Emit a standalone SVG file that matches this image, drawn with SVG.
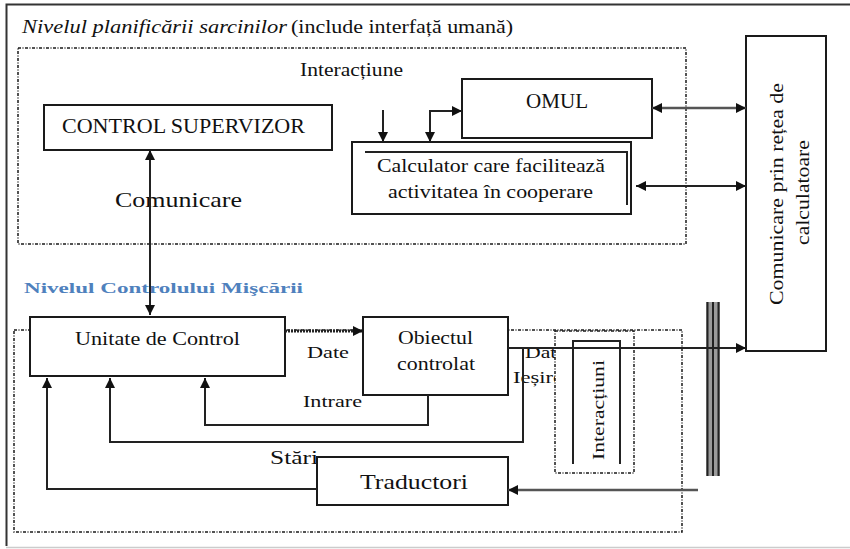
<svg xmlns="http://www.w3.org/2000/svg" width="850" height="549" viewBox="0 0 850 549">
  <style>
    .box { fill: #fff; stroke: #1a1a1a; stroke-width: 2; }
    .zone { fill: none; stroke: #1a1a1a; stroke-width: 1.5; stroke-dasharray: 3 1.5 1 1.5; }
    .zonew { fill: #fff; stroke: #1a1a1a; stroke-width: 1.5; stroke-dasharray: 3 1.5 1 1.5; }
    .ln { fill: none; stroke: #222; stroke-width: 2; }
    .lg { fill: none; stroke: #555; stroke-width: 2.5; }
    text { font-family: 'Liberation Serif', 'DejaVu Serif', serif; fill: #111; }
  </style>
  <defs>
    <marker id="ah" viewBox="0 0 10 10" refX="10" refY="5" markerWidth="11" markerHeight="10" markerUnits="userSpaceOnUse" orient="auto-start-reverse">
      <path d="M0,0 L10,5 L0,10 z" fill="#111"/>
    </marker>
  </defs>

  <rect width="850" height="549" fill="#fff"/>
  <!-- outer frame -->
  <path d="M850,4.5 H6.5 V546" fill="none" stroke="#333" stroke-width="2"/>
  <path d="M6,547.5 H850" fill="none" stroke="#ccc" stroke-width="1.5"/>

  <!-- level captions -->
  <text x="22" y="33" font-size="19" font-style="italic" textLength="265" lengthAdjust="spacingAndGlyphs">Nivelul planificării sarcinilor</text>
  <text x="291" y="33" font-size="19" textLength="222" lengthAdjust="spacingAndGlyphs">(include interfață umană)</text>
  <text x="24" y="293" font-weight="bold" font-size="15" style="fill:#4f81bd" textLength="279" lengthAdjust="spacingAndGlyphs">Nivelul Controlului Mişcării</text>

  <!-- zones -->
  <g id="zone-planificare">
    <rect class="zone" x="18" y="48" width="668" height="196"/>
  </g>
  <g id="zone-control">
    <rect class="zone" x="14" y="330" width="668" height="202"/>
  </g>

  <!-- free labels -->
  <text x="300" y="76" font-size="18" textLength="103" lengthAdjust="spacingAndGlyphs">Interacțiune</text>
  <text x="115" y="207" font-size="22" textLength="127" lengthAdjust="spacingAndGlyphs">Comunicare</text>
  <text x="307" y="358" font-size="17" textLength="42" lengthAdjust="spacingAndGlyphs">Date</text>
  <text x="303" y="407" font-size="17" textLength="59" lengthAdjust="spacingAndGlyphs">Intrare</text>
  <text x="270" y="464" font-size="18" textLength="48" lengthAdjust="spacingAndGlyphs">Stări</text>
  <text x="525" y="358" font-size="17" textLength="41" lengthAdjust="spacingAndGlyphs">Date</text>
  <text x="513" y="383" font-size="17" textLength="50" lengthAdjust="spacingAndGlyphs">Ieșire</text>

  <!-- nodes -->
  <g id="control-supervizor">
    <rect class="box" x="44" y="105" width="288" height="45"/>
    <text x="62" y="133" font-size="21" textLength="243" lengthAdjust="spacingAndGlyphs">CONTROL SUPERVIZOR</text>
  </g>
  <g id="omul">
    <rect class="box" x="462" y="79" width="190" height="59"/>
    <text x="526" y="108" font-size="20" textLength="62" lengthAdjust="spacingAndGlyphs">OMUL</text>
  </g>
  <g id="calculator">
    <rect class="box" x="352" y="142" width="279" height="72"/>
    <path class="ln" d="M365,152 H627 V205"/>
    <text x="377" y="172" font-size="18" textLength="228" lengthAdjust="spacingAndGlyphs">Calculator care facilitează</text>
    <text x="388" y="198" font-size="18" textLength="205" lengthAdjust="spacingAndGlyphs">activitatea în cooperare</text>
  </g>
  <g id="comunicare-retea">
    <rect class="box" x="746" y="36" width="80" height="315"/>
    <text transform="translate(783,305) rotate(-90)" font-size="18" textLength="222" lengthAdjust="spacingAndGlyphs">Comunicare prin rețea de</text>
    <text transform="translate(809,245) rotate(-90)" font-size="18" textLength="105" lengthAdjust="spacingAndGlyphs">calculatoare</text>
  </g>
  <g id="unitate-control">
    <rect class="box" x="30" y="317" width="255" height="59"/>
    <text x="75" y="345" font-size="19" textLength="165" lengthAdjust="spacingAndGlyphs">Unitate de Control</text>
  </g>
  <g id="obiectul-controlat">
    <rect class="box" x="363" y="317" width="145" height="78"/>
    <text x="398" y="344" font-size="18" textLength="75" lengthAdjust="spacingAndGlyphs">Obiectul</text>
    <text x="397" y="370" font-size="18" textLength="78" lengthAdjust="spacingAndGlyphs">controlat</text>
  </g>
  <g id="traductori">
    <rect class="box" x="317" y="457" width="191" height="48"/>
    <text x="360" y="489" font-size="21" textLength="108" lengthAdjust="spacingAndGlyphs">Traductori</text>
  </g>
  <g id="interactiuni">
    <rect class="zonew" x="555" y="331" width="79" height="142"/>
    <path class="ln" d="M573,464 V341 H620 V464"/>
    <text transform="translate(604,460) rotate(-90)" font-size="17" textLength="100" lengthAdjust="spacingAndGlyphs">Interacțiuni</text>
  </g>
  <g id="bus">
    <rect x="706" y="302" width="14" height="174" fill="#9a9a9a"/>
    <path d="M707.5,302 V476 M713,302 V476 M718.5,302 V476" stroke="#222" stroke-width="2"/>
  </g>

  <!-- connectors -->
  <g id="connectors">
    <path class="ln" d="M150,315 V150" marker-start="url(#ah)" marker-end="url(#ah)"/>
    <path class="ln" d="M383,110 V142" marker-end="url(#ah)"/>
    <path class="ln" d="M430,142 V111 H462" marker-start="url(#ah)" marker-end="url(#ah)"/>
    <path class="lg" d="M652,108 H746" marker-start="url(#ah)" marker-end="url(#ah)"/>
    <path class="ln" d="M636,186 H746" marker-start="url(#ah)" marker-end="url(#ah)"/>
    <path d="M285,331 H363" fill="none" stroke="#222" stroke-width="3" stroke-dasharray="2 1" marker-end="url(#ah)"/>
    <path class="ln" d="M508,348 H746" marker-end="url(#ah)"/>
    <path class="ln" d="M428,395 V425 H205 V378" marker-end="url(#ah)"/>
    <path class="ln" d="M523,348 V442 H110 V378" marker-end="url(#ah)"/>
    <path class="ln" d="M317,489 H47 V378" marker-end="url(#ah)"/>
    <path class="lg" d="M698,490 H508" marker-end="url(#ah)"/>
  </g>
</svg>
